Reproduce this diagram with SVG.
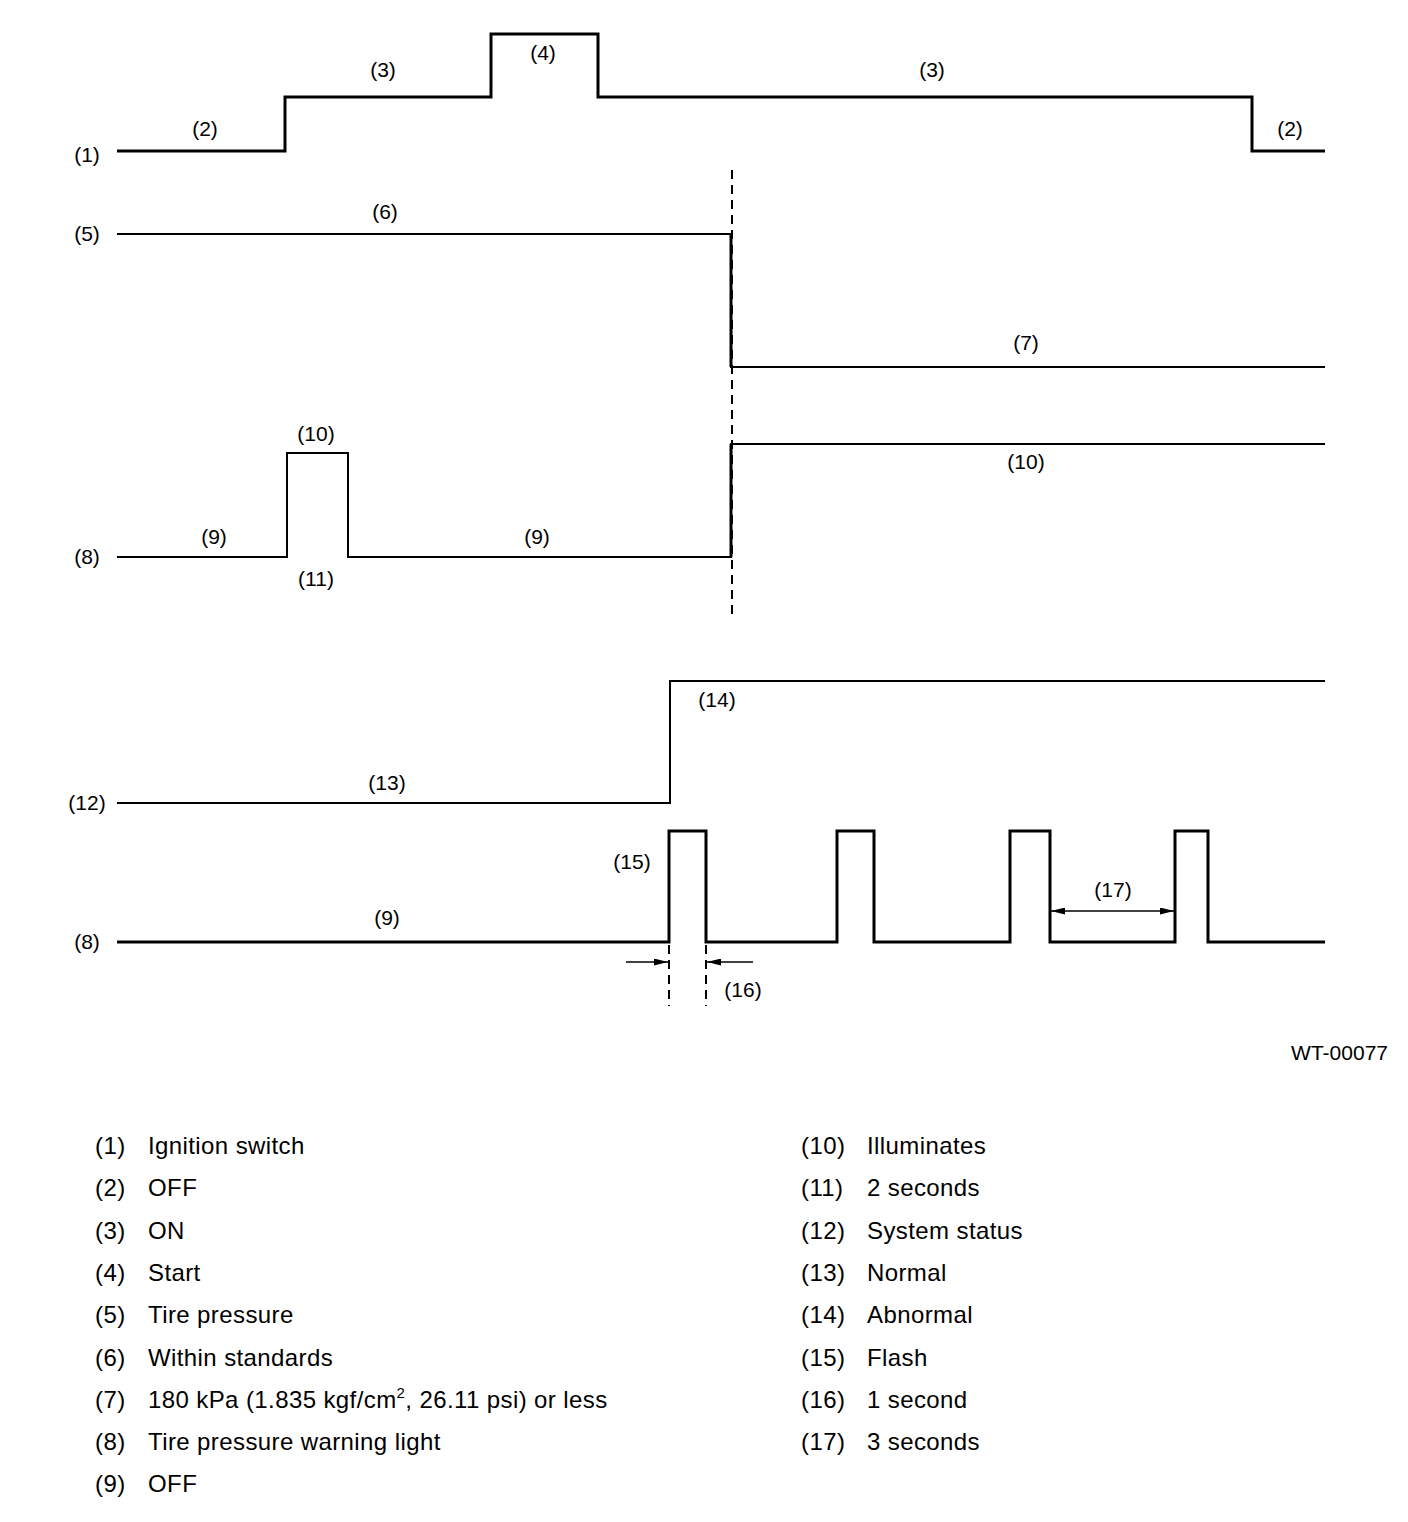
<svg xmlns="http://www.w3.org/2000/svg" width="1408" height="1522" viewBox="0 0 1408 1522">
<style>
text{font-family:"Liberation Sans",Arial,sans-serif;fill:#000}
.l{font-size:21px;text-anchor:middle}
.g{font-size:24px;letter-spacing:0.4px}
.w{fill:none;stroke:#000;stroke-width:3;stroke-linejoin:miter;stroke-linecap:butt}
.t{fill:none;stroke:#000;stroke-width:2}
.d{fill:none;stroke:#000;stroke-width:2;stroke-dasharray:9,6}
.a{stroke:#000;stroke-width:1.5;fill:none}
</style>
<defs>
<marker id="ah" viewBox="0 0 14 7" refX="14" refY="3.5" markerWidth="14" markerHeight="7" markerUnits="userSpaceOnUse" orient="auto">
<path d="M0,0 L14,3.5 L0,7 Z" fill="#000"/>
</marker>
</defs>
<rect width="1408" height="1522" fill="#fff"/>
<g id="connectors">
<path id="ignition" class="w" d="M117,151 H285 V97 H491 V34 H598 V97 H1252 V151 H1325"/>
<path id="pressure" class="t" d="M117,234 H731 V367 H1325"/>
<line x1="731" y1="234" x2="731" y2="367" stroke="#000" stroke-width="3"/>
<line class="d" x1="732" y1="170" x2="732" y2="618"/>
<path id="light1" class="t" d="M117,557 H287 V453 H348 V557 H731 V444 H1325"/>
<line x1="731" y1="444" x2="731" y2="557" stroke="#000" stroke-width="3"/>
<path id="status" class="t" d="M117,803 H670 V681 H1325"/>
<path id="light2" class="w" d="M117,942 H669 V831 H706 V942 H837 V831 H874 V942 H1010 V831 H1050 V942 H1175 V831 H1208 V942 H1325"/>
<line class="d" x1="669" y1="945" x2="669" y2="1006"/>
<line class="d" x1="706" y1="945" x2="706" y2="1006"/>
<line class="a" x1="626" y1="962" x2="668" y2="962" marker-end="url(#ah)"/>
<line class="a" x1="753" y1="962" x2="707" y2="962" marker-end="url(#ah)"/>
<line class="a" x1="1112" y1="911" x2="1051" y2="911" marker-end="url(#ah)"/>
<line class="a" x1="1112" y1="911" x2="1174" y2="911" marker-end="url(#ah)"/>
</g>
<g id="labels">
<text class="l" x="87" y="162">(1)</text>
<text class="l" x="205" y="136">(2)</text>
<text class="l" x="383" y="77">(3)</text>
<text class="l" x="543" y="60">(4)</text>
<text class="l" x="932" y="77">(3)</text>
<text class="l" x="1290" y="136">(2)</text>
<text class="l" x="87" y="241">(5)</text>
<text class="l" x="385" y="219">(6)</text>
<text class="l" x="1026" y="350">(7)</text>
<text class="l" x="316" y="441">(10)</text>
<text class="l" x="214" y="544">(9)</text>
<text class="l" x="537" y="544">(9)</text>
<text class="l" x="87" y="564">(8)</text>
<text class="l" x="316" y="586">(11)</text>
<text class="l" x="1026" y="469">(10)</text>
<text class="l" x="717" y="707">(14)</text>
<text class="l" x="87" y="810">(12)</text>
<text class="l" x="387" y="790">(13)</text>
<text class="l" x="632" y="869">(15)</text>
<text class="l" x="1113" y="897">(17)</text>
<text class="l" x="387" y="925">(9)</text>
<text class="l" x="87" y="949">(8)</text>
<text class="l" x="743" y="997">(16)</text>
<text x="1388" y="1060" style="font-size:21px;text-anchor:end">WT-00077</text>
</g>
<g id="legend" class="g">
<text x="95" y="1154">(1)</text><text x="148" y="1154">Ignition switch</text>
<text x="95" y="1196">(2)</text><text x="148" y="1196">OFF</text>
<text x="95" y="1239">(3)</text><text x="148" y="1239">ON</text>
<text x="95" y="1281">(4)</text><text x="148" y="1281">Start</text>
<text x="95" y="1323">(5)</text><text x="148" y="1323">Tire pressure</text>
<text x="95" y="1366">(6)</text><text x="148" y="1366">Within standards</text>
<text x="95" y="1408">(7)</text><text x="148" y="1408">180 kPa (1.835 kgf/cm<tspan dy="-10" font-size="15">2</tspan><tspan dy="10">, 26.11 psi) or less</tspan></text>
<text x="95" y="1450">(8)</text><text x="148" y="1450">Tire pressure warning light</text>
<text x="95" y="1492">(9)</text><text x="148" y="1492">OFF</text>
<text x="801" y="1154">(10)</text><text x="867" y="1154">Illuminates</text>
<text x="801" y="1196">(11)</text><text x="867" y="1196">2 seconds</text>
<text x="801" y="1239">(12)</text><text x="867" y="1239">System status</text>
<text x="801" y="1281">(13)</text><text x="867" y="1281">Normal</text>
<text x="801" y="1323">(14)</text><text x="867" y="1323">Abnormal</text>
<text x="801" y="1366">(15)</text><text x="867" y="1366">Flash</text>
<text x="801" y="1408">(16)</text><text x="867" y="1408">1 second</text>
<text x="801" y="1450">(17)</text><text x="867" y="1450">3 seconds</text>
</g>
</svg>
